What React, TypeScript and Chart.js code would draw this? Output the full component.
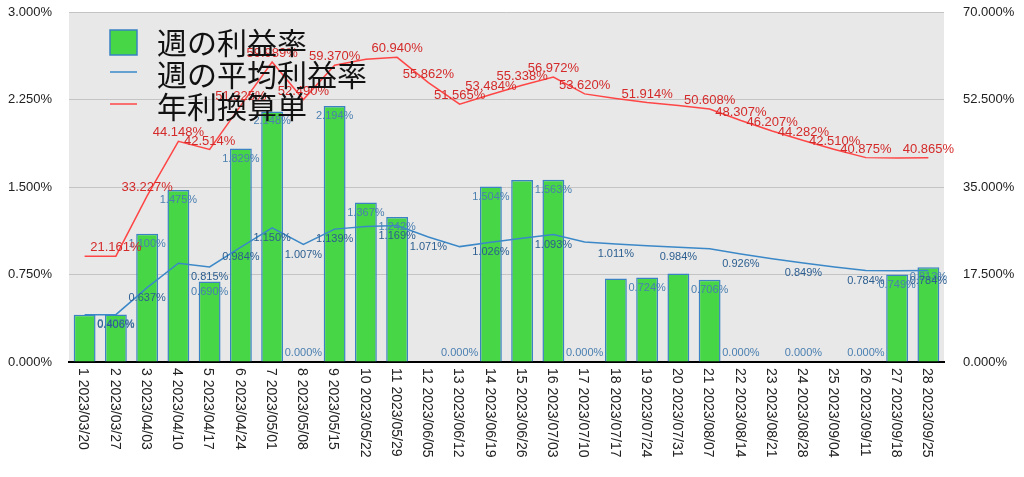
import React, { useEffect, useRef } from 'react';
import { Chart, registerables } from 'chart.js';

Chart.register(...registerables);

const dates = [
  '2023/03/20', '2023/03/27', '2023/04/03', '2023/04/10', '2023/04/17', '2023/04/24', '2023/05/01',
  '2023/05/08', '2023/05/15', '2023/05/22', '2023/05/29', '2023/06/05', '2023/06/12', '2023/06/19',
  '2023/06/26', '2023/07/03', '2023/07/10', '2023/07/17', '2023/07/24', '2023/07/31', '2023/08/07',
  '2023/08/14', '2023/08/21', '2023/08/28', '2023/09/04', '2023/09/11', '2023/09/18', '2023/09/25',
];

// 週の利益率 (%)
const weeklyRate = [
  0.405, 0.408, 1.1, 1.475, 0.69, 1.829, 2.148, 0.0, 2.194, 1.367, 1.242, 0.0, 0.0, 1.504,
  1.559, 1.563, 0.0, 0.715, 0.724, 0.758, 0.706, 0.0, 0.0, 0.0, 0.0, 0.0, 0.749, 0.813,
];

// 週の平均利益率 (%)
const avgRate = [
  0.405, 0.406, 0.637, 0.847, 0.815, 0.984, 1.15, 1.007, 1.139, 1.162, 1.169, 1.071, 0.989, 1.026,
  1.061, 1.093, 1.028, 1.011, 0.996, 0.984, 0.971, 0.926, 0.886, 0.849, 0.815, 0.784, 0.783, 0.784,
];

// 年利換算単 (%)
const annualRate = [
  21.161, 21.161, 33.227, 44.148, 42.514, 51.325, 59.989, 52.49, 59.37, 60.57, 60.94, 55.862, 51.565, 53.484,
  55.338, 56.972, 53.62, 52.717, 51.914, 51.31, 50.608, 48.307, 46.207, 44.282, 42.51, 40.875, 40.81, 40.865,
];

const seriesNames = ['週の利益率', '週の平均利益率', '年利換算単'];

// indices whose value labels are not shown in the original
const hiddenBarLabels = [0, 11, 14, 17, 19, 22, 24];
const hiddenAvgLabels = [0, 3, 9, 12, 14, 16, 18, 20, 22, 24, 26];
const hiddenAnnualLabels = [0, 9, 17, 19, 26];

const GREEN = '#46d646';
const BAR_BORDER = '#3a82c4';
const BLUE = '#3b88c8';
const RED = '#ff4646';
const FONT = '"Liberation Sans", Arial, Helvetica, sans-serif';
const CJK = '"Noto Sans CJK JP", "Noto Sans", sans-serif';

const fmt = (v: number) => v.toFixed(3) + '%';

const plotBg = {
  id: 'plotBg',
  beforeDraw(chart: any) {
    const { ctx, chartArea: a } = chart;
    ctx.save();
    ctx.fillStyle = '#e8e8e8';
    ctx.fillRect(a.left, a.top, a.right - a.left, a.bottom - a.top);
    ctx.restore();
  },
};

const valueLabels = {
  id: 'valueLabels',
  afterDatasetsDraw(chart: any) {
    const { ctx, chartArea: a } = chart;
    ctx.save();
    ctx.textAlign = 'center';
    ctx.textBaseline = 'middle';

    ctx.font = '11px ' + FONT;
    ctx.fillStyle = '#4a7fb0';
    chart.getDatasetMeta(0).data.forEach((el: any, i: number) => {
      if (hiddenBarLabels.includes(i)) return;
      const y = Math.min(el.y + 10, a.bottom - 9);
      ctx.fillText(fmt(weeklyRate[i]), el.x, y);
    });

    ctx.fillStyle = '#2c5e90';
    chart.getDatasetMeta(1).data.forEach((el: any, i: number) => {
      if (hiddenAvgLabels.includes(i)) return;
      ctx.fillText(fmt(avgRate[i]), el.x, el.y + 10);
    });

    ctx.font = '13px ' + FONT;
    ctx.fillStyle = '#d42a2a';
    chart.getDatasetMeta(2).data.forEach((el: any, i: number) => {
      if (hiddenAnnualLabels.includes(i)) return;
      ctx.fillText(fmt(annualRate[i]), el.x, el.y - 8.5);
    });
    ctx.restore();
  },
};

const xLabels = {
  id: 'xLabels',
  afterDraw(chart: any) {
    const { ctx } = chart;
    const xs = chart.scales.x;
    ctx.save();
    ctx.font = '14px ' + FONT;
    ctx.fillStyle = '#222';
    ctx.textAlign = 'left';
    ctx.textBaseline = 'middle';
    dates.forEach((d, i) => {
      const x = xs.getPixelForTick(i);
      ctx.save();
      ctx.translate(x - 1.5, xs.top + 6);
      ctx.rotate(Math.PI / 2);
      ctx.fillText(`${i + 1} ${d}`, 0, 0);
      ctx.restore();
    });
    ctx.restore();
  },
};

const customLegend = {
  id: 'customLegend',
  afterDraw(chart: any) {
    const { ctx } = chart;
    ctx.save();
    ctx.font = '30px ' + CJK;
    ctx.textAlign = 'left';
    ctx.textBaseline = 'middle';
    const x0 = 110;
    const rows = [43, 75, 107];
    ctx.fillStyle = GREEN;
    ctx.fillRect(x0, 30, 27, 25);
    ctx.strokeStyle = BAR_BORDER;
    ctx.lineWidth = 1.5;
    ctx.strokeRect(x0, 30, 27, 25);
    ctx.lineWidth = 1.5;
    ctx.strokeStyle = BLUE;
    ctx.beginPath();
    ctx.moveTo(x0, rows[1] - 3);
    ctx.lineTo(x0 + 27, rows[1] - 3);
    ctx.stroke();
    ctx.strokeStyle = RED;
    ctx.beginPath();
    ctx.moveTo(x0, rows[2] - 3);
    ctx.lineTo(x0 + 27, rows[2] - 3);
    ctx.stroke();
    ctx.fillStyle = '#111';
    seriesNames.forEach((n, i) => ctx.fillText(n, 157, rows[i]));
    ctx.restore();
  },
};

export default function App() {
  const ref = useRef<HTMLCanvasElement | null>(null);

  useEffect(() => {
    if (!ref.current) return;
    const chart = new Chart(ref.current, {
      type: 'bar',
      data: {
        labels: dates.map((d, i) => `${i + 1} ${d}`),
        datasets: [
          {
            type: 'bar',
            label: seriesNames[0],
            data: weeklyRate,
            yAxisID: 'y',
            backgroundColor: GREEN,
            borderColor: BAR_BORDER,
            borderWidth: 1.5,
            barPercentage: 0.7,
            categoryPercentage: 1.0,
            order: 3,
          } as any,
          {
            type: 'line',
            label: seriesNames[1],
            data: avgRate,
            yAxisID: 'y',
            borderColor: BLUE,
            borderWidth: 1.5,
            pointRadius: 0,
            tension: 0,
            fill: false,
            order: 2,
          } as any,
          {
            type: 'line',
            label: seriesNames[2],
            data: annualRate,
            yAxisID: 'y1',
            borderColor: RED,
            borderWidth: 1.5,
            pointRadius: 0,
            tension: 0,
            fill: false,
            order: 1,
          } as any,
        ],
      },
      options: {
        animation: false,
        responsive: true,
        maintainAspectRatio: false,
        layout: { padding: { top: 12, left: 0, right: 0, bottom: 0 } },
        plugins: {
          legend: { display: false },
          tooltip: { enabled: false },
        },
        scales: {
          x: {
            type: 'category',
            offset: true,
            grid: { display: false },
            border: { display: true, color: '#000', width: 2 },
            ticks: { display: false },
            afterFit: (s: any) => {
              s.height = 115;
            },
          },
          y: {
            position: 'left',
            min: 0,
            max: 3,
            ticks: {
              stepSize: 0.75,
              padding: 17,
              color: '#222',
              font: { family: FONT, size: 13 },
              callback: (v: any) => Number(v).toFixed(3) + '%',
            },
            grid: { color: '#c4c4c4', lineWidth: 1, drawTicks: false },
            border: { display: false },
            afterFit: (s: any) => {
              s.width = 69;
              s.paddingTop = 8;
              s.paddingBottom = 0;
            },
          },
          y1: {
            position: 'right',
            min: 0,
            max: 70,
            ticks: {
              stepSize: 17.5,
              padding: 19,
              color: '#222',
              font: { family: FONT, size: 13 },
              callback: (v: any) => Number(v).toFixed(3) + '%',
            },
            grid: { display: false, drawTicks: false },
            border: { display: false },
            afterFit: (s: any) => {
              s.width = 80;
              s.paddingTop = 8;
              s.paddingBottom = 0;
            },
          },
        },
      } as any,
      plugins: [plotBg, valueLabels, xLabels, customLegend],
    });
    return () => chart.destroy();
  }, []);

  return (
    <div style={{ position: 'fixed', left: 0, top: 0, width: 1024, height: 477, background: '#fff' }}>
      <canvas ref={ref} />
    </div>
  );
}
